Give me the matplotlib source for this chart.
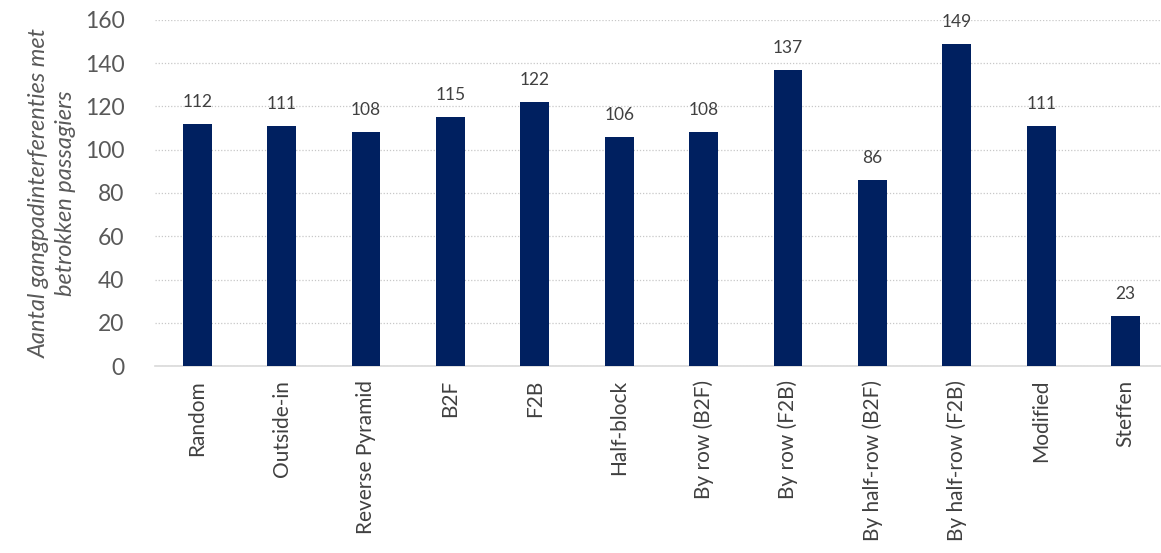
import matplotlib.pyplot as plt

strategies = ["Random", "Outside-in", "Reverse Pyramid", "B2F", "F2B", "Half-block",
              "By row (B2F)", "By row (F2B)", "By half-row (B2F)", "By half-row (F2B)",
              "Modified", "Steffen"]
interferenties = [112, 111, 108, 115, 122, 106, 108, 137, 86, 149, 111, 23]

plt.rcParams['font.family'] = ['Lato', 'DejaVu Sans']

fig = plt.figure(figsize=(11.61, 5.53), dpi=100)
ax = fig.add_axes([0.1335, 0.338, 0.8665, 0.626])

x = range(len(strategies))
ax.bar(x, interferenties, width=0.34, color="#002060", zorder=3)
for i, v in zip(x, interferenties):
    ax.text(i, v + 6.5, str(v), ha="center", va="bottom", fontsize=12.5, color="#404040")

ax.set_ylim(0, 160)
ax.set_xlim(-0.5, 11.42)
ax.set_yticks(range(0, 161, 20))
ax.set_xticks(list(x))
ax.set_xticklabels(strategies, rotation=90, fontsize=15, color="#404040")
ax.tick_params(axis="y", labelsize=16.5, colors="#595959", length=0, pad=22)
ax.tick_params(axis="x", length=0, pad=10)
ax.yaxis.grid(True, linestyle=(0, (1, 1.5)), color="#c8c8c8", linewidth=0.9, zorder=0)
for s in ["top", "right", "left"]:
    ax.spines[s].set_visible(False)
ax.spines["bottom"].set_color("#d9d9d9")
ax.spines["bottom"].set_linewidth(1.2)
ax.set_ylabel("Aantal gangpadinterferenties met\nbetrokken passagiers", fontsize=17,
              style="italic", color="#595959", labelpad=6, linespacing=1.3)

fig.savefig("out.png", dpi=100)
